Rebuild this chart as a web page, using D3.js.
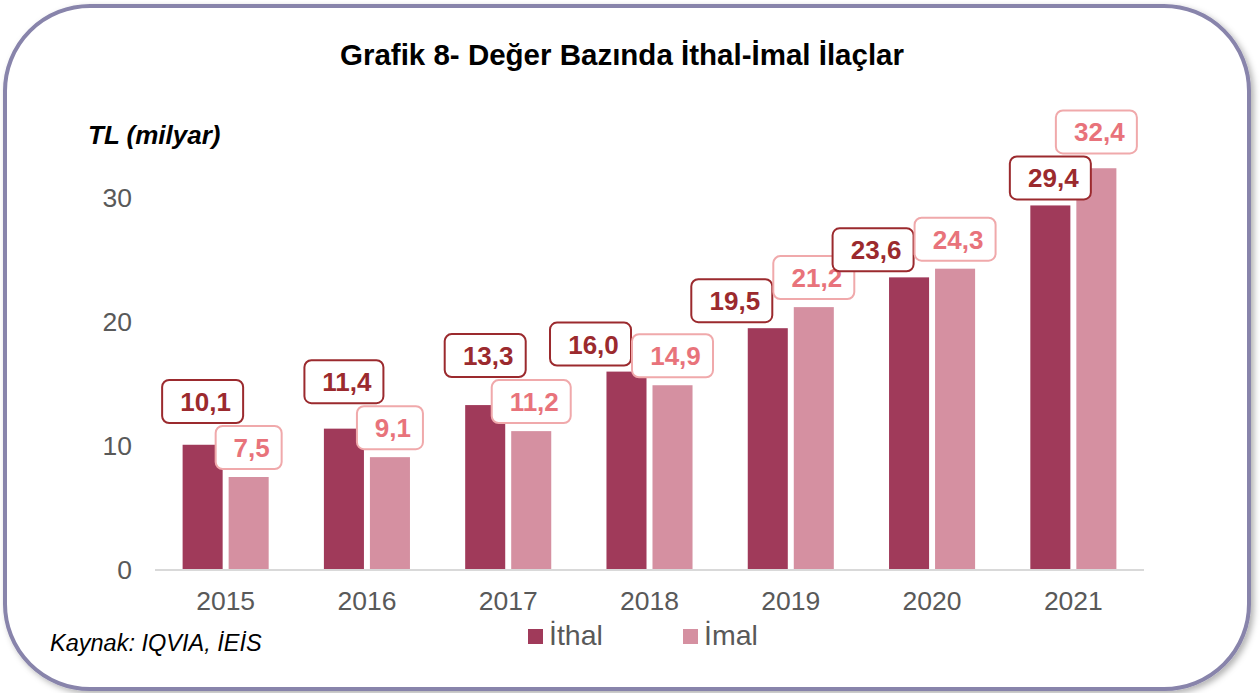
<!DOCTYPE html>
<html>
<head>
<meta charset="utf-8">
<script src="https://cdn.jsdelivr.net/npm/d3@7"></script>
<style>
  body { margin: 0; background: #fff; }
  svg { display: block; font-family: "Liberation Sans", Arial, sans-serif; }
</style>
</head>
<body>
<svg width="1260" height="693"></svg>
<script>
// data (TL milyar)
const years = ["2015", "2016", "2017", "2018", "2019", "2020", "2021"];
const ithal = [10.1, 11.4, 13.3, 16.0, 19.5, 23.6, 29.4];
const imal = [7.5, 9.1, 11.2, 14.9, 21.2, 24.3, 32.4];
const seriesNames = ["İthal", "İmal"];
const yTicks = [0, 10, 20, 30];

const title = "Grafik 8- Değer Bazında İthal-İmal İlaçlar";
const yTitle = "TL (milyar)";
const source = "Kaynak: IQVIA, İEİS";

const series = [
  { key: "ithal", name: seriesNames[0], values: ithal, fill: "#a03a5a", ink: "#9b2a2e", line: "#9b2a2e", gap: 6 },
  { key: "imal", name: seriesNames[1], values: imal, fill: "#d590a1", ink: "#e8737b", line: "#f0a9ab", gap: 8 }
];

const svg = d3.select("svg");
const width = +svg.attr("width");
const height = +svg.attr("height");

const defs = svg.append("defs");
defs.append("filter")
  .attr("id", "shadow")
  .attr("x", "-5%").attr("y", "-5%")
  .attr("width", "110%").attr("height", "110%")
  .append("feDropShadow")
  .attr("dx", 3).attr("dy", 3)
  .attr("stdDeviation", 3)
  .attr("flood-color", "#000")
  .attr("flood-opacity", 0.3);

// rounded frame
svg.append("rect")
  .attr("x", 5).attr("y", 6)
  .attr("width", width - 16).attr("height", height - 10)
  .attr("rx", 85).attr("ry", 85)
  .attr("fill", "#fff")
  .attr("stroke", "#8884ab")
  .attr("stroke-width", 4)
  .attr("filter", "url(#shadow)");

svg.append("text")
  .attr("x", 622)
  .attr("y", 65)
  .attr("text-anchor", "middle")
  .attr("font-weight", "bold")
  .attr("font-size", 29.5)
  .attr("fill", "#000")
  .text(title);

svg.append("text")
  .attr("x", 88)
  .attr("y", 144)
  .attr("font-weight", "bold")
  .attr("font-style", "italic")
  .attr("font-size", 26)
  .attr("fill", "#000")
  .text(yTitle);

const x0 = d3.scaleBand()
  .domain(years)
  .range([155, 1144]);

const x1 = d3.scaleBand()
  .domain(series.map(s => s.key))
  .range([0, x0.bandwidth()])
  .paddingInner(0.13)
  .paddingOuter(0.6);

const y = d3.scaleLinear()
  .domain([0, 35])
  .range([570, 136]);

// y axis labels only
svg.append("g")
  .selectAll("text")
  .data(yTicks)
  .enter().append("text")
  .attr("x", 132)
  .attr("y", d => y(d))
  .attr("dy", "0.35em")
  .attr("text-anchor", "end")
  .attr("font-size", 26.5)
  .attr("fill", "#595959")
  .text(d => d);

// bars
const groups = svg.append("g")
  .selectAll("g")
  .data(years)
  .enter().append("g")
  .attr("transform", d => `translate(${x0(d)},0)`);

groups.selectAll("rect")
  .data((d, i) => series.map(s => ({ s, v: s.values[i] })))
  .enter().append("rect")
  .attr("x", d => x1(d.s.key))
  .attr("width", x1.bandwidth())
  .attr("y", d => y(d.v))
  .attr("height", d => y(0) - y(d.v))
  .attr("fill", d => d.s.fill);

// baseline
svg.append("line")
  .attr("x1", x0.range()[0]).attr("x2", x0.range()[1])
  .attr("y1", y(0)).attr("y2", y(0))
  .attr("stroke", "#d9d9d9")
  .attr("stroke-width", 2);

// category labels
svg.append("g")
  .selectAll("text")
  .data(years)
  .enter().append("text")
  .attr("x", d => x0(d) + x0.bandwidth() / 2)
  .attr("y", 610)
  .attr("text-anchor", "middle")
  .attr("font-size", 26.5)
  .attr("fill", "#595959")
  .text(d => d);

// data labels in rounded boxes
const fmt = v => d3.format(".1f")(v).replace(".", ",");
const boxH = 43;
const labelLayer = svg.append("g");
const items = [];

years.forEach((yr, i) => {
  series.forEach(s => {
    const v = s.values[i];
    const g = labelLayer.append("g");
    const rect = g.append("rect")
      .attr("rx", 7).attr("ry", 7)
      .attr("fill", "#fff")
      .attr("stroke", s.line)
      .attr("stroke-width", 2);
    const t = g.append("text")
      .attr("text-anchor", "middle")
      .attr("font-weight", "bold")
      .attr("font-size", 26)
      .attr("fill", s.ink)
      .text(fmt(v));
    const w = Math.round(t.node().getComputedTextLength()) + 30;
    const cx = x0(yr) + x1(s.key) + x1.bandwidth() / 2;
    items.push({ rect, t, i, key: s.key, w, x: cx - w / 2, y: y(v) - s.gap - boxH });
  });
});

const overlap = (a, b) =>
  a.x < b.x + b.w && b.x < a.x + a.w && a.y < b.y + boxH && b.y < a.y + boxH;

// keep each pair of boxes apart: lift or slide the İthal box, or lift the İmal one
years.forEach((yr, i) => {
  const a = items.find(d => d.i === i && d.key === "ithal");
  const b = items.find(d => d.i === i && d.key === "imal");
  if (!overlap(a, b)) return;
  const raiseA = a.y + boxH - b.y + 3;
  const shiftA = a.x + a.w - b.x + 1;
  const raiseB = b.y + boxH - a.y + 3;
  const best = Math.min(raiseA * 1.15, shiftA, raiseB * 2);
  if (best === raiseA * 1.15) a.y -= raiseA;
  else if (best === shiftA) a.x -= shiftA;
  else b.y -= raiseB;
});

items.forEach(d => {
  d.rect
    .attr("x", d.x).attr("y", d.y)
    .attr("width", d.w).attr("height", boxH);
  d.t
    .attr("x", d.x + d.w / 2 + 3)
    .attr("y", d.y + boxH - 12);
});

// legend
const legend = svg.append("g")
  .selectAll("g")
  .data(series)
  .enter().append("g")
  .attr("transform", (d, i) => `translate(${528 + i * 155},629)`);

legend.append("rect")
  .attr("width", 15).attr("height", 15)
  .attr("fill", d => d.fill);

legend.append("text")
  .attr("x", 21)
  .attr("y", 16)
  .attr("font-size", 28.5)
  .attr("fill", "#595959")
  .text(d => d.name);

svg.append("text")
  .attr("x", 50)
  .attr("y", 651)
  .attr("font-style", "italic")
  .attr("font-size", 23.5)
  .attr("fill", "#000")
  .text(source);
</script>
</body>
</html>
